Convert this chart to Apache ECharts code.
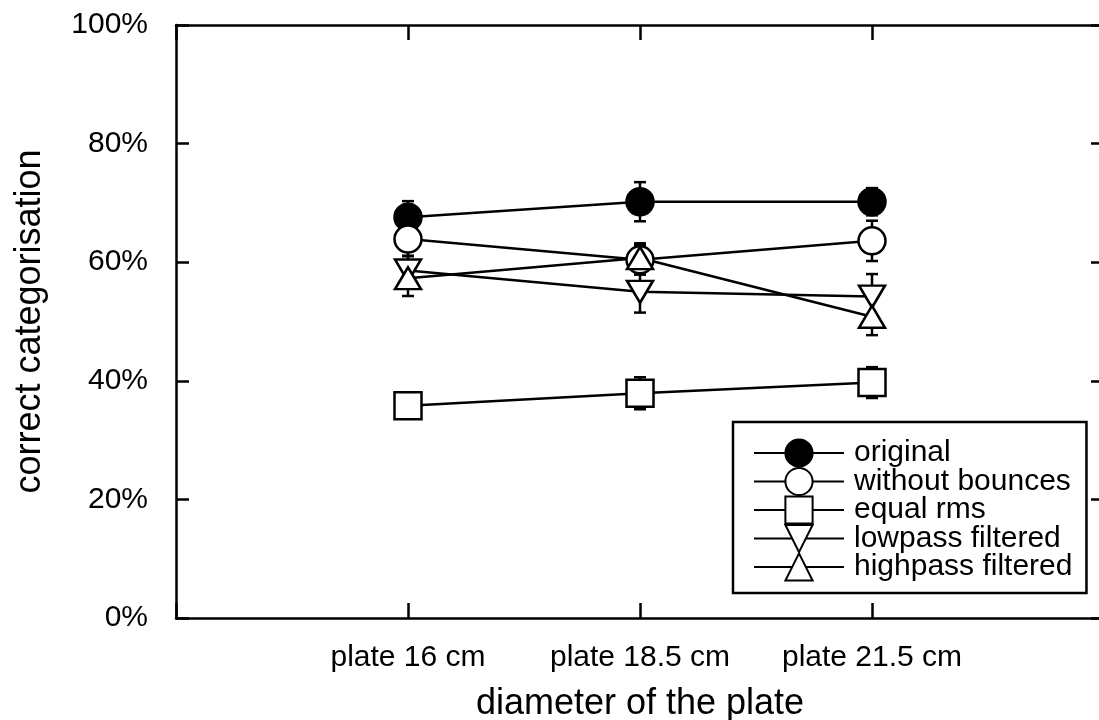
<!DOCTYPE html>
<html>
<head>
<meta charset="utf-8">
<script src="https://cdn.jsdelivr.net/npm/echarts@6/dist/echarts.min.js"></script>
<style>html,body{margin:0;padding:0;background:#fff;}#c{width:1099px;height:720px;}</style>
</head>
<body>
<div id="c"></div>
<script>
const categories = ['plate 16 cm', 'plate 18.5 cm', 'plate 21.5 cm'];
const yTicks = [0, 20, 40, 60, 80, 100];
const seriesNames = ['original', 'without bounces', 'equal rms', 'lowpass filtered', 'highpass filtered'];
const original = [67.6, 70.2, 70.2];
const originalErr = [2.7, 3.3, 2.3];
const withoutBounces = [63.9, 60.4, 63.6];
const withoutBouncesErr = [2.8, 2.5, 3.4];
const equalRms = [35.8, 37.9, 39.7];
const equalRmsErr = [1.5, 2.7, 2.6];
const lowpass = [58.6, 55.0, 54.2];
const lowpassErr = [2.4, 3.5, 3.8];
const highpass = [57.3, 60.7, 50.8];
const highpassErr = [3.0, 2.5, 3.1];

const FONT = 'Liberation Sans, Arial, Helvetica, sans-serif';
const LW = 2.5;
const values = [original, withoutBounces, equalRms, lowpass, highpass];
const errs = [originalErr, withoutBouncesErr, equalRmsErr, lowpassErr, highpassErr];
const symbols = ['circle', 'circle', 'rect', 'triangle', 'triangle'];
const sizes = [27, 27, 27, [26, 22], [26, 22]];
const rotates = [0, 0, 0, 180, 0];
const fills = ['#000', '#fff', '#fff', '#fff', '#fff'];

const series = [];
values.forEach((vals, k) => {
  series.push({
    name: 'err-' + seriesNames[k],
    type: 'custom',
    z: 1,
    silent: true,
    data: vals.map((v, i) => [i + 1, v, errs[k][i]]),
    renderItem: function (params, api) {
      const x = api.value(0), y = api.value(1), e = api.value(2);
      const t = api.coord([x, y + e]);
      const b = api.coord([x, y - e]);
      const w = 6;
      const st = { stroke: '#000', lineWidth: LW };
      return {
        type: 'group',
        children: [
          { type: 'line', shape: { x1: t[0], y1: t[1], x2: b[0], y2: b[1] }, style: st },
          { type: 'line', shape: { x1: t[0] - w, y1: t[1], x2: t[0] + w, y2: t[1] }, style: st },
          { type: 'line', shape: { x1: b[0] - w, y1: b[1], x2: b[0] + w, y2: b[1] }, style: st }
        ]
      };
    }
  });
});
values.forEach((vals, k) => {
  series.push({
    name: seriesNames[k],
    type: 'line',
    z: 2,
    data: vals.map((v, i) => [i + 1, v]),
    symbol: symbols[k],
    symbolSize: sizes[k],
    symbolRotate: rotates[k],
    showAllSymbol: true,
    lineStyle: { color: '#000', width: LW },
    itemStyle: { color: fills[k], borderColor: '#000', borderWidth: LW, opacity: 1 },
    emphasis: { disabled: true },
    animation: false
  });
});

const axisLineStyle = { show: true, onZero: false, lineStyle: { color: '#000', width: LW } };
const tickStyle = { color: '#000', width: LW };

const chart = echarts.init(document.getElementById('c'), null, { renderer: 'canvas' });
chart.setOption({
  animation: false,
  backgroundColor: '#fff',
  grid: { left: 176, top: 25, right: -5, bottom: 102, containLabel: false, outerBoundsMode: 'none' },
  legend: {
    data: seriesNames,
    orient: 'vertical',
    left: 733,
    top: 422,
    padding: [16, 14, 11, 20],
    itemGap: -1.5,
    itemWidth: 90,
    itemHeight: 34,
    borderColor: '#000',
    borderWidth: LW,
    backgroundColor: '#fff',
    selectedMode: false,
    textStyle: { fontFamily: FONT, fontSize: 30, color: '#000', padding: [0, 0, 0, 5] }
  },
  xAxis: [{
    type: 'value', min: 0, max: 4, interval: 1, position: 'bottom',
    name: 'diameter of the plate', nameLocation: 'middle', nameGap: 68,
    nameTextStyle: { fontFamily: FONT, fontSize: 36, color: '#000' },
    axisLine: axisLineStyle,
    axisTick: { show: true, inside: true, length: 15, lineStyle: tickStyle },
    axisLabel: {
      margin: 25, fontFamily: FONT, fontSize: 30, color: '#000',
      formatter: function (v) { return categories[v - 1] || ''; }
    },
    splitLine: { show: false }
  }, {
    type: 'value', min: 0, max: 4, interval: 1, position: 'top',
    axisLine: axisLineStyle,
    axisTick: { show: true, inside: true, length: 15, lineStyle: tickStyle },
    axisLabel: { show: false },
    splitLine: { show: false }
  }],
  yAxis: [{
    type: 'value', min: 0, max: 100, interval: 20, position: 'left',
    name: 'correct categorisation', nameLocation: 'middle', nameGap: 128,
    nameTextStyle: { fontFamily: FONT, fontSize: 36, color: '#000' },
    axisLine: axisLineStyle,
    axisTick: { show: true, inside: true, length: 13, lineStyle: tickStyle },
    axisLabel: {
      margin: 28, fontFamily: FONT, fontSize: 30, color: '#000',
      formatter: function (v) { return yTicks.indexOf(v) >= 0 ? v + '%' : ''; }
    },
    splitLine: { show: false }
  }, {
    type: 'value', min: 0, max: 100, interval: 20, position: 'right',
    axisLine: axisLineStyle,
    axisTick: { show: true, inside: true, length: 13, lineStyle: tickStyle },
    axisLabel: { show: false },
    splitLine: { show: false }
  }],
  series: series
});
</script>
</body>
</html>
